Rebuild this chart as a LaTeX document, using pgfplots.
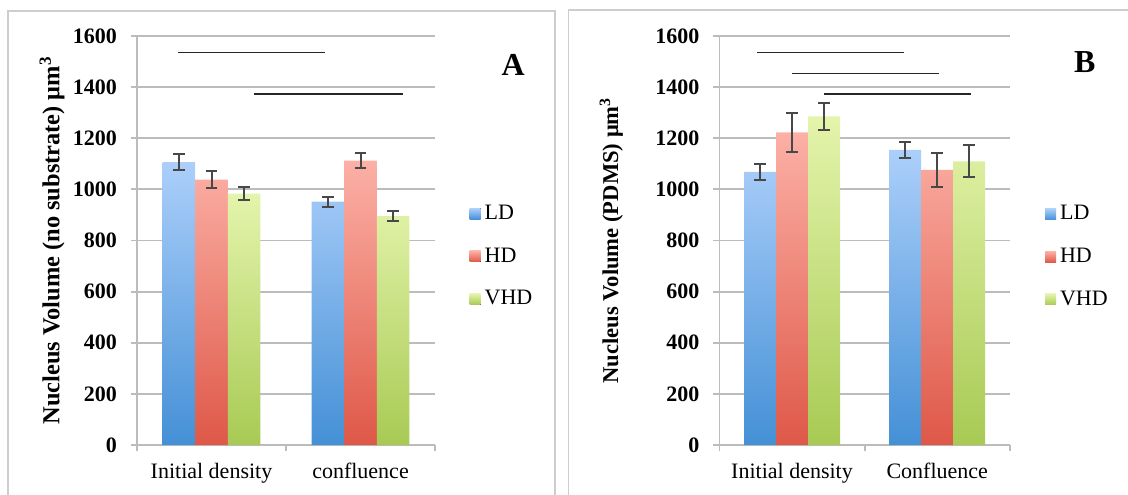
\documentclass[border=0pt]{standalone}
\usepackage{pgfplots}
\pgfplotsset{compat=1.18}
\usepackage{fontspec}
\setmainfont{Liberation Serif}
\definecolor{ldT}{RGB}{172,207,250}
\definecolor{ldB}{RGB}{68,144,214}
\definecolor{hdT}{RGB}{252,176,166}
\definecolor{hdB}{RGB}{222,88,72}
\definecolor{vhdT}{RGB}{228,244,172}
\definecolor{vhdB}{RGB}{168,202,84}
\definecolor{gridc}{RGB}{188,188,188}
\definecolor{framec}{RGB}{205,205,205}
\definecolor{errc}{RGB}{72,72,72}
\pgfplotsset{
  panel/.style={
    scale only axis, height=204.5pt, anchor=south west,
    xmin=-0.5, xmax=1.5, ymin=0, ymax=1600,
    ybar,
    axis x line*=bottom, axis y line*=left,
    axis line style={gridc, line width=0.9pt},
    tick align=outside,
    ytick={0,200,...,1600},
    ymajorgrids, grid style={gridc, line width=0.9pt},
    major tick length=3pt, minor tick length=3pt,
    ytick style={gridc, line width=0.9pt},
    xtick={0,1}, major x tick style={draw=none},
    minor xtick={-0.5,0.5,1.5}, minor x tick style={gridc, line width=0.9pt},
    yticklabel style={font=\fontsize{11}{13}\selectfont\bfseries, xshift=-3.5pt},
    xticklabel style={font=\fontsize{11}{13}\selectfont, yshift=-2.5pt},
    /pgf/number format/assume math mode=true,
    /pgf/number format/1000 sep={},
    scaled y ticks=false,
    ylabel style={anchor=center},
    legend style={draw=none, fill=none, inner sep=0pt, font=\fontsize{11}{12}\selectfont, anchor=west, legend cell align=left, row sep=8.6pt},
    legend image code/.code={\fill[#1] (0pt,-2.75pt) rectangle (5.5pt,2.75pt);},
    clip=false,
  },
  errs/.style={error bars/.cd, y dir=both, y explicit,
    error bar style={draw=errc, line width=1pt},
    error mark options={rotate=90, draw=errc, mark size=2.9pt, line width=1pt}},
  sig/.style={sharp plot, draw=black!85, line width=0.75pt, forget plot, bar shift=0pt},
}
\begin{document}
\begin{tikzpicture}
\useasboundingbox (0,0) rectangle (564pt,247pt);
\draw[framec, line width=0.8pt] (3.95pt,-2pt) -- (3.95pt,241.5pt) -- (277.5pt,241.5pt) -- (277.5pt,-2pt);
\draw[framec, line width=0.8pt] (284.3pt,-2pt) -- (284.3pt,242pt) -- (566pt,242pt);

\begin{axis}[panel, at={(68.5pt,24.5pt)}, width=149pt, bar width=16.3pt,
  xticklabels={Initial density, confluence},
  ylabel={Nucleus Volume (no substrate) μm\textsuperscript{3}},
  ylabel style={at={(axis description cs:-0.285,0.5)}, font=\fontsize{12.2}{14}\selectfont\bfseries},
  legend style={at={(axis description cs:1.115,0.461)}}]
\addplot[top color=ldT, bottom color=ldB, draw=none, bar shift=-16.3pt, errs]
  coordinates {(0,1107) +- (0,30) (1,952) +- (0,20)};
\addplot[top color=hdT, bottom color=hdB, draw=none, bar shift=0pt, errs]
  coordinates {(0,1038) +- (0,33) (1,1112) +- (0,30)};
\addplot[top color=vhdT, bottom color=vhdB, draw=none, bar shift=16.3pt, errs]
  coordinates {(0,983) +- (0,26) (1,895) +- (0,20)};
\legend{LD, HD, VHD}
\addplot[sig] coordinates {(-0.228,1535) (0.764,1535)};
\addplot[sig] coordinates {(0.287,1374) (1.285,1374)};
\node[font=\fontsize{16}{18}\selectfont\bfseries] at (axis description cs:1.262,0.929) {A};
\end{axis}

\begin{axis}[panel, at={(359.7pt,24.5pt)}, width=145.2pt, bar width=16pt,
  xticklabels={Initial density, Confluence},
  ylabel={Nucleus Volume (PDMS) μm\textsuperscript{3}},
  ylabel style={at={(axis description cs:-0.372,0.5)}, font=\fontsize{11.3}{13}\selectfont\bfseries},
  legend style={at={(axis description cs:1.12,0.46)}}]
\addplot[top color=ldT, bottom color=ldB, draw=none, bar shift=-16pt, errs]
  coordinates {(0,1068) +- (0,33) (1,1155) +- (0,32)};
\addplot[top color=hdT, bottom color=hdB, draw=none, bar shift=0pt, errs]
  coordinates {(0,1223) +- (0,75) (1,1076) +- (0,65)};
\addplot[top color=vhdT, bottom color=vhdB, draw=none, bar shift=16pt, errs]
  coordinates {(0,1286) +- (0,52) (1,1110) +- (0,62)};
\legend{LD, HD, VHD}
\addplot[sig] coordinates {(-0.241,1535) (0.769,1535)};
\addplot[sig] coordinates {(0.0,1454) (1.01,1454)};
\addplot[sig] coordinates {(0.218,1374) (1.233,1374)};
\node[font=\fontsize{16}{18}\selectfont\bfseries] at (axis description cs:1.258,0.936) {B};
\end{axis}
\end{tikzpicture}
\end{document}
